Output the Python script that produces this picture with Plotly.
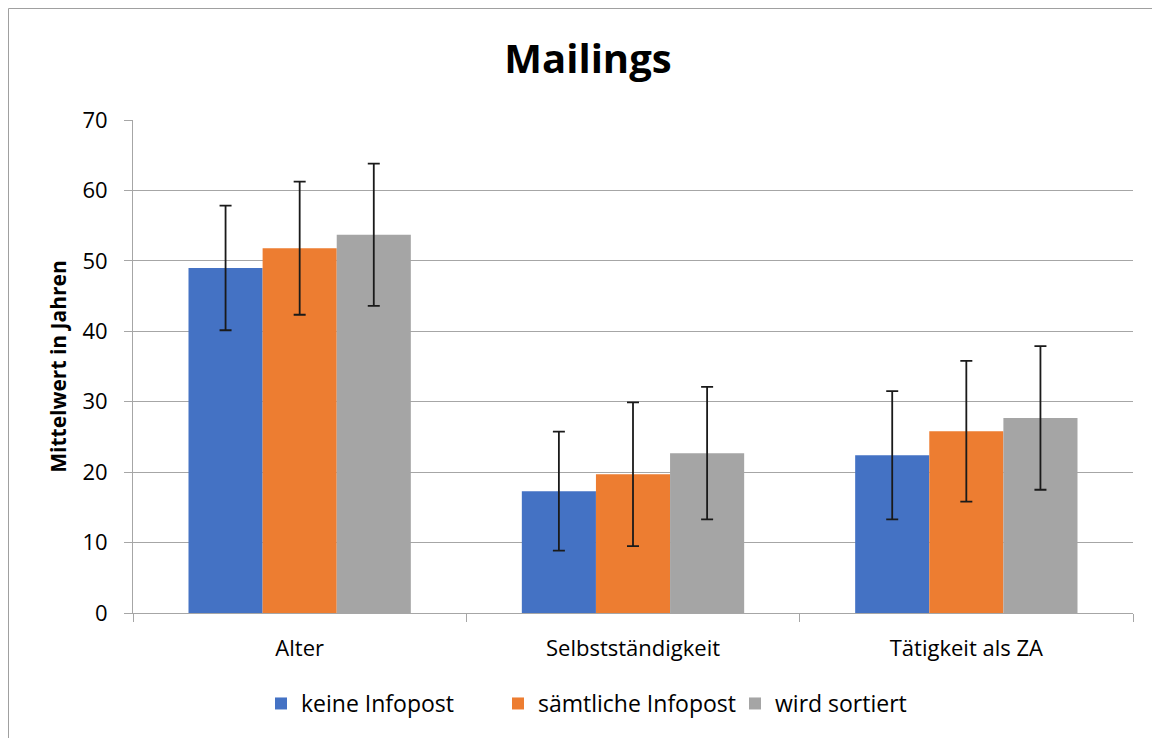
import plotly.graph_objects as go

categories = ["Alter", "Selbstständigkeit", "Tätigkeit als ZA"]
series_names = ["keine Infopost", "sämtliche Infopost", "wird sortiert"]
keine_infopost = [49.0, 17.3, 22.4]
keine_infopost_err = [8.85, 8.45, 9.1]
saemtliche_infopost = [51.8, 19.7, 25.8]
saemtliche_infopost_err = [9.45, 10.2, 10.0]
wird_sortiert = [53.7, 22.7, 27.7]
wird_sortiert_err = [10.1, 9.4, 10.2]
y_ticks = [0, 10, 20, 30, 40, 50, 60, 70]

colors = ["#4472C4", "#ED7D31", "#A5A5A5"]
values = [keine_infopost, saemtliche_infopost, wird_sortiert]
errors = [keine_infopost_err, saemtliche_infopost_err, wird_sortiert_err]

FONT = "'Open Sans', Calibri, sans-serif"

fig = go.Figure()
for name, vals, errs, col in zip(series_names, values, errors, colors):
    fig.add_trace(go.Bar(
        x=categories, y=vals, name=name,
        marker=dict(color=col, line=dict(width=0)),
        error_y=dict(type="data", array=errs, visible=True,
                     color="#1a1a1a", thickness=1.8, width=6),
    ))

L, T, PW, PH = 125, 112, 1000, 493
fig.update_layout(
    width=1160, height=738,
    paper_bgcolor="white", plot_bgcolor="white",
    margin=dict(l=L, r=1160 - L - PW, t=T, b=738 - T - PH),
    barmode="group", bargap=0.333, bargroupgap=0,
    font=dict(family=FONT, size=22, color="#000000"),
    title=dict(text="<b>Mailings</b>", x=0.5, xanchor="center",
               y=1 - 51 / 738, yanchor="middle",
               font=dict(family=FONT, size=40, color="#000000")),
    showlegend=True,
    legend=dict(orientation="h", x=0.128, xanchor="left", y=-0.14, yanchor="top",
                font=dict(family=FONT, size=23, color="#000000"),
                entrywidth=192, entrywidthmode="pixels",
                itemclick=False, traceorder="normal"),
    xaxis=dict(
        type="category", showgrid=False, showline=True, linecolor="#a6a6a6", linewidth=1,
        ticks="outside", tickson="boundaries", ticklen=8, tickcolor="#a6a6a6",
        ticklabelstandoff=16,
        tickfont=dict(family=FONT, size=22, color="#000000"),
    ),
    yaxis=dict(
        range=[0, 70], tickvals=y_ticks, showgrid=True, gridcolor="#a6a6a6", gridwidth=1,
        showline=True, linecolor="#a6a6a6", linewidth=1, zeroline=False,
        ticks="outside", ticklen=8, tickcolor="#a6a6a6",
        ticklabelstandoff=12,
        tickfont=dict(family=FONT, size=22, color="#000000"),
        title=dict(text="<b>Mittelwert in Jahren</b>", standoff=10,
                   font=dict(family=FONT, size=21, color="#000000")),
    ),
    shapes=[dict(type="rect", xref="paper", yref="paper",
                 x0=(0.5 - L) / PW, x1=1.3, y0=-0.8, y1=(T + PH - 0.5) / PH,
                 line=dict(color="#a0a0a0", width=1), fillcolor="rgba(0,0,0,0)",
                 layer="below")],
)

fig.write_html("out.html")
